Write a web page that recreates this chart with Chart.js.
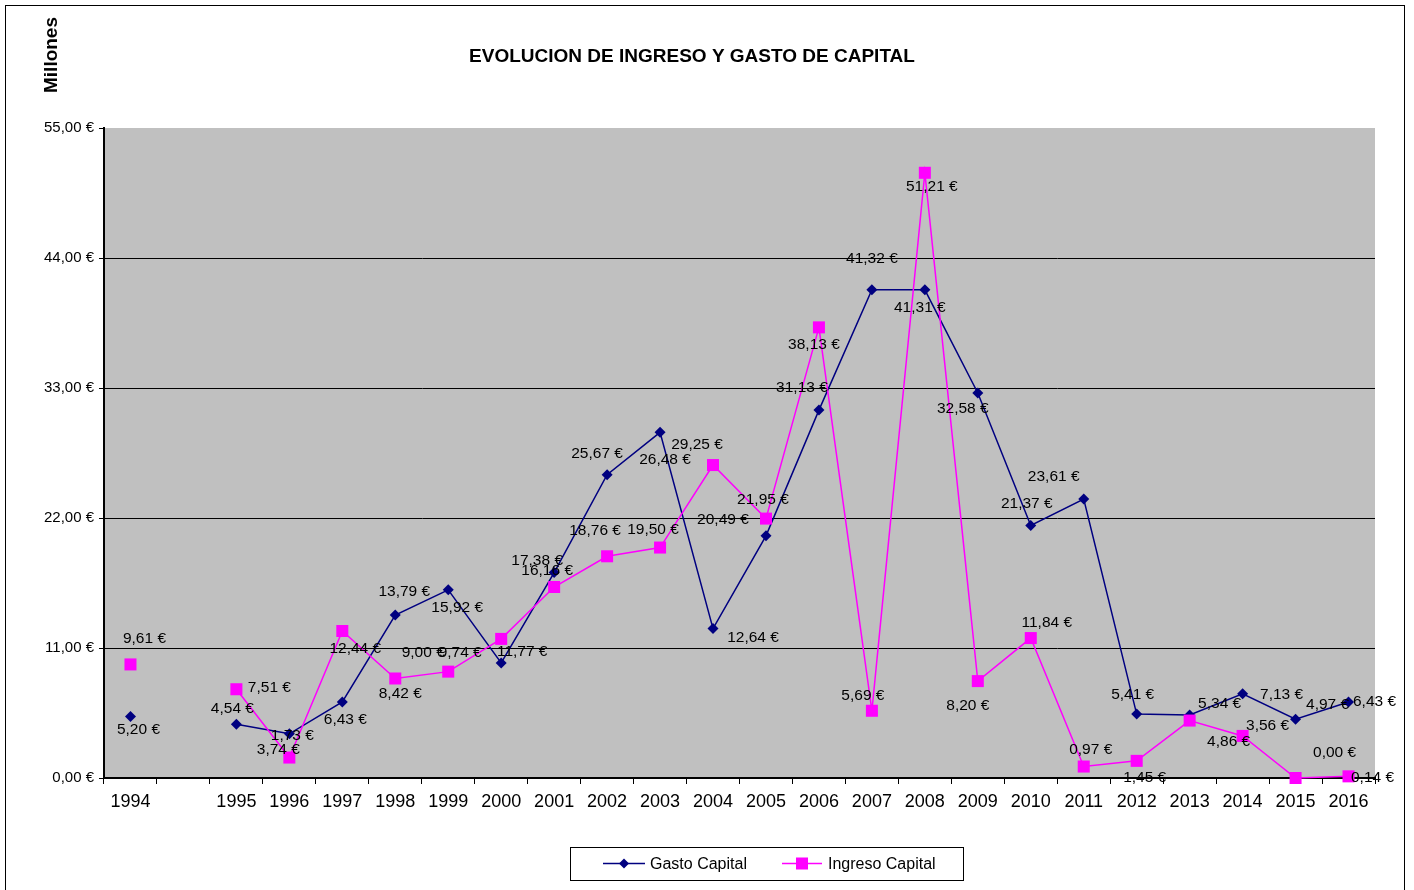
<!DOCTYPE html>
<html>
<head>
<meta charset="utf-8">
<script src="https://cdn.jsdelivr.net/npm/chart.js@4.4.1/dist/chart.umd.min.js"></script>
<style>
  html, body { margin: 0; padding: 0; background: #ffffff; }
  #wrap { position: relative; width: 1414px; height: 890px; }
  canvas { display: block; }
</style>
</head>
<body>
<div id="wrap"><canvas id="c" width="1414" height="890"></canvas></div>
<script>
// ---- Data ----
const categories = ['1994', '', '1995', '1996', '1997', '1998', '1999', '2000', '2001', '2002', '2003',
  '2004', '2005', '2006', '2007', '2008', '2009', '2010', '2011', '2012', '2013', '2014', '2015', '2016'];

const gastoCapital = [5.20, null, 4.54, 3.74, 6.43, 13.79, 15.92, 9.74, 17.38, 25.67, 29.25,
  12.64, 20.49, 31.13, 41.32, 41.31, 32.58, 21.37, 23.61, 5.41, 5.34, 7.13, 4.97, 6.43];

const ingresoCapital = [9.61, null, 7.51, 1.73, 12.44, 8.42, 9.00, 11.77, 16.16, 18.76, 19.50,
  26.48, 21.95, 38.13, 5.69, 51.21, 8.20, 11.84, 0.97, 1.45, 4.86, 3.56, 0.00, 0.14];

const yTickValues = [0, 11, 22, 33, 44, 55];

const seriesNames = ['Gasto Capital', 'Ingreso Capital'];
const chartTitle = 'EVOLUCION DE INGRESO Y GASTO DE CAPITAL';
const unitLabel = 'Millones';

// ---- Label placement (relative offsets of value labels from their points, in px) ----
const gastoLabelOffsets = [[8,13], null, [-4,-16], [-11,16], [3,18], [9,-23], [9,18], [-41,-10], [-17,-12],
  [-10,-21], [37,12], [40,9], [-43,-16], [-17,-22], [0,-31], [-5,18], [-15,16], [-4,-22], [-30,-22],
  [-4,-19], [30,-11], [39,1], [32,-15], [26,0]];
const ingresoLabelOffsets = [[14,-26], null, [33,-2], [3,-22], [13,18], [5,15], [-25,-19], [21,13], [-7,-16],
  [-12,-26], [-7,-18], [-48,-5], [-3,-19], [-5,17], [-9,-15], [7,14], [-10,25], [16,-15], [7,-17],
  [8,17], [39,21], [25,-10], [39,-25], [24,1]];

const FONT = '"Liberation Sans", Arial, Helvetica, sans-serif';
const NAVY = '#000080';
const MAGENTA = '#FF00FF';

function euro(v) {
  return v.toFixed(2).replace('.', ',') + ' €';
}

const plotBackground = {
  id: 'plotBackground',
  beforeDraw(chart) {
    const { ctx, chartArea: a } = chart;
    ctx.save();
    ctx.fillStyle = '#FFFFFF';
    ctx.fillRect(0, 0, chart.width, chart.height);
    // outer frame
    ctx.strokeStyle = '#000000';
    ctx.lineWidth = 1;
    ctx.strokeRect(5.5, 5.5, 1399, 900);
    ctx.fillStyle = '#C0C0C0';
    ctx.fillRect(a.left, a.top, a.right - a.left, a.bottom - a.top);
    ctx.restore();
  }
};

const valueLabels = {
  id: 'valueLabels',
  afterDatasetsDraw(chart) {
    const { ctx } = chart;
    const offsetsBySet = [gastoLabelOffsets, ingresoLabelOffsets];
    ctx.save();
    ctx.font = '15.5px ' + FONT;
    ctx.fillStyle = '#000000';
    ctx.textAlign = 'center';
    ctx.textBaseline = 'middle';
    chart.data.datasets.forEach((ds, di) => {
      const meta = chart.getDatasetMeta(di);
      meta.data.forEach((pt, i) => {
        const v = ds.data[i];
        if (v === null || v === undefined) return;
        const off = offsetsBySet[di][i] || [0, -15];
        ctx.fillText(euro(v), pt.x + off[0], pt.y + off[1]);
      });
    });
    ctx.restore();
  }
};

const decorations = {
  id: 'decorations',
  afterDraw(chart) {
    const { ctx } = chart;
    ctx.save();
    // title
    ctx.fillStyle = '#000000';
    ctx.font = 'bold 19px ' + FONT;
    ctx.textAlign = 'center';
    ctx.textBaseline = 'middle';
    ctx.fillText(chartTitle, 692, 57);
    // unit label, rotated
    ctx.save();
    ctx.translate(52, 55);
    ctx.rotate(-Math.PI / 2);
    ctx.font = 'bold 19px ' + FONT;
    ctx.fillText(unitLabel, 0, 0);
    ctx.restore();

    // legend
    const lx = 570, ly = 847, lw = 393, lh = 33;
    ctx.fillStyle = '#FFFFFF';
    ctx.fillRect(lx, ly, lw, lh);
    ctx.strokeStyle = '#000000';
    ctx.lineWidth = 1;
    ctx.strokeRect(lx + 0.5, ly + 0.5, lw, lh);
    const cy = ly + lh / 2;
    ctx.font = '16px ' + FONT;
    ctx.textAlign = 'left';
    // Gasto
    ctx.strokeStyle = NAVY;
    ctx.lineWidth = 1.5;
    ctx.beginPath(); ctx.moveTo(603, cy); ctx.lineTo(645, cy); ctx.stroke();
    ctx.fillStyle = NAVY;
    ctx.beginPath();
    ctx.moveTo(624 - 5, cy); ctx.lineTo(624, cy - 5); ctx.lineTo(624 + 5, cy); ctx.lineTo(624, cy + 5);
    ctx.closePath(); ctx.fill();
    ctx.fillStyle = '#000000';
    ctx.fillText(seriesNames[0], 650, cy + 1);
    // Ingreso
    ctx.strokeStyle = MAGENTA;
    ctx.beginPath(); ctx.moveTo(782, cy); ctx.lineTo(822, cy); ctx.stroke();
    ctx.fillStyle = MAGENTA;
    ctx.fillRect(802 - 6, cy - 6, 12, 12);
    ctx.fillStyle = '#000000';
    ctx.fillText(seriesNames[1], 828, cy + 1);
    ctx.restore();
  }
};

new Chart(document.getElementById('c'), {
  type: 'line',
  data: {
    labels: categories,
    datasets: [
      {
        label: seriesNames[0],
        data: gastoCapital,
        borderColor: NAVY,
        backgroundColor: NAVY,
        borderWidth: 1.5,
        pointStyle: 'rectRot',
        pointRadius: 5.5,
        pointHoverRadius: 5.5,
        pointBorderWidth: 0,
        pointBackgroundColor: NAVY,
        tension: 0,
        spanGaps: false,
        clip: false,
        order: 1
      },
      {
        label: seriesNames[1],
        data: ingresoCapital,
        borderColor: MAGENTA,
        backgroundColor: MAGENTA,
        borderWidth: 1.5,
        pointStyle: 'rect',
        pointRadius: 8.5,
        pointHoverRadius: 8.5,
        pointBorderWidth: 0,
        pointBackgroundColor: MAGENTA,
        tension: 0,
        spanGaps: false,
        clip: false,
        order: 0
      }
    ]
  },
  options: {
    responsive: false,
    devicePixelRatio: 1,
    animation: false,
    events: [],
    layout: { padding: { left: 0, top: 128, right: 39, bottom: 0 } },
    plugins: {
      legend: { display: false },
      title: { display: false },
      tooltip: { enabled: false }
    },
    scales: {
      x: {
        type: 'category',
        offset: true,
        grid: {
          offset: true,
          drawOnChartArea: false,
          drawTicks: true,
          tickLength: 6,
          color: '#000000',
          lineWidth: 1
        },
        border: { display: true, color: '#000000', width: 2 },
        ticks: {
          color: '#000000',
          font: { size: 18, family: FONT },
          padding: 7,
          maxRotation: 0,
          autoSkip: false
        },
        afterFit(scale) { scale.height = 112; }
      },
      y: {
        min: 0,
        max: 55,
        afterBuildTicks(scale) { scale.ticks = yTickValues.map(v => ({ value: v })); },
        grid: {
          color: (c) => (c.tick && (c.tick.value === 0 || c.tick.value === 55)) ? 'rgba(0,0,0,0)' : '#000000',
          tickColor: '#000000',
          lineWidth: 1,
          drawTicks: true,
          tickLength: 5
        },
        border: { display: true, color: '#000000', width: 2 },
        ticks: {
          color: '#000000',
          font: { size: 15, family: FONT },
          padding: 5,
          callback: (v) => euro(v)
        },
        afterFit(scale) { scale.width = 104; }
      }
    }
  },
  plugins: [plotBackground, valueLabels, decorations]
});
</script>
</body>
</html>
